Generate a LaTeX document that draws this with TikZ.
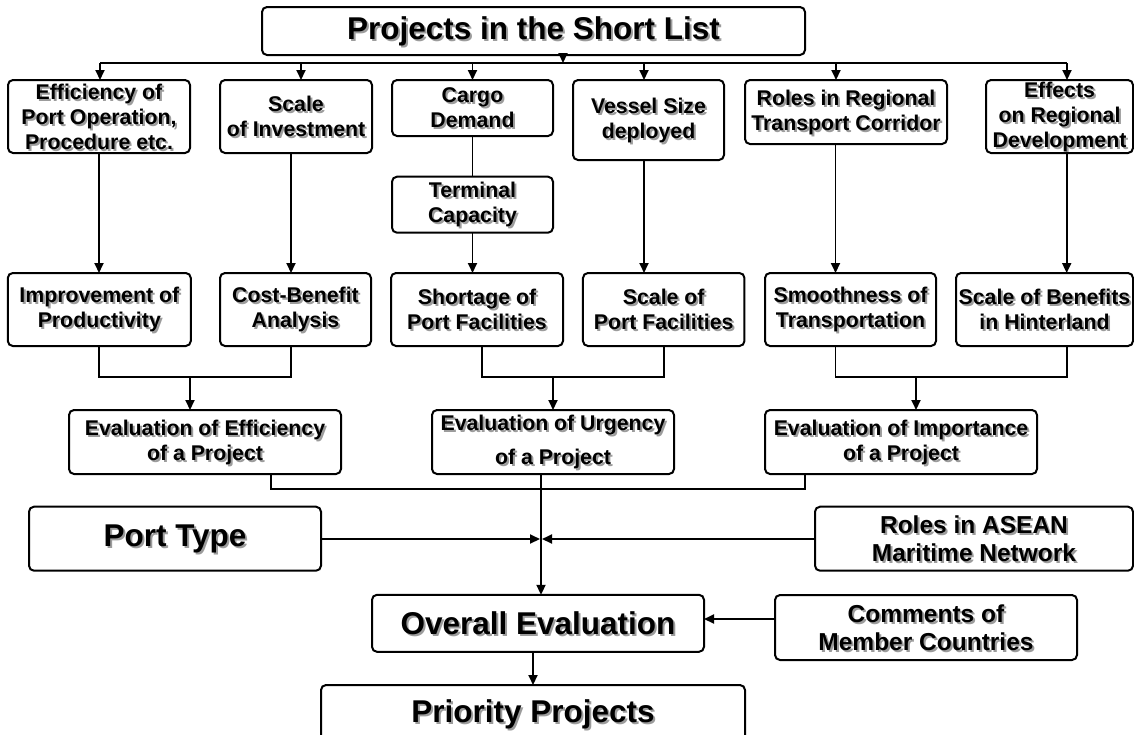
\documentclass[tikz,border=0pt]{standalone}
\usepackage{fontspec}
\setmainfont{Liberation Sans}
\usepackage{tikz}
\usetikzlibrary{arrows.meta}
\definecolor{shade}{HTML}{9C9C9C}
% box with a grey drop shadow under its text: name, style, centre, text
\newcommand{\bx}[4]{\node[#2,draw=none,text=shade] (#1s) at ([shift={(2,2)}]#3) {#4}; \node[#2] (#1) at (#3) {#4};}

\begin{document}
\begin{tikzpicture}[x=1pt,y=-1pt,
  box/.style={draw,line width=2pt,rounded corners=5pt,align=center,inner sep=1pt,outer sep=0pt},
  sm/.style={box,font=\fontsize{21.3}{25}\selectfont\bfseries},
  md/.style={box,font=\fontsize{24.5}{28}\selectfont\bfseries},
  lg/.style={box,font=\fontsize{31.5}{36}\selectfont\bfseries},
  sz/.style 2 args={minimum width=#1pt,minimum height=#2pt},
  arr/.style={line width=1.9pt,-{Triangle[length=10pt,width=9pt]}},
  ln/.style={line width=1.9pt},
  fine/.style={line width=1.2pt}]
\useasboundingbox (0,0) rectangle (1134,734);

% top and the criteria row
\bx{top}{lg,sz={543}{48}}{533.5,31}{Projects in the Short List}
\bx{eff}{sm,sz={182}{73}}{99,116.5}{Efficiency of\\Port Operation,\\Procedure etc.}
\bx{inv}{sm,sz={152}{73}}{296,116.5}{Scale\\of Investment}
\bx{cargo}{sm,sz={161}{56}}{472.5,108}{Cargo\\Demand}
\bx{vessel}{sm,sz={151}{80}}{648.5,120}{Vessel Size\\deployed}
\bx{corr}{sm,sz={202}{64}}{846,112}{Roles in Regional\\Transport Corridor}
\bx{regdev}{sm,sz={147}{73}}{1059.5,116.5}{Effects\\on Regional\\Development}
\bx{term}{sm,sz={161}{56}}{472.5,204.7}{Terminal\\Capacity}

% indicators
\bx{prod}{sm,sz={183}{73}}{99.3,309.5}{Improvement of\\Productivity}
\bx{cba}{sm,sz={151}{73}}{295.5,309.5}{Cost-Benefit\\Analysis}
\bx{short}{sm,sz={172}{73}}{477,309.5}{Shortage of\\Port Facilities}
\bx{facil}{sm,sz={161.5}{73}}{663.7,309.5}{Scale of\\Port Facilities}
\bx{smooth}{sm,sz={171}{73}}{850.5,309.5}{Smoothness of\\Transportation}
\bx{benef}{sm,sz={177}{73}}{1044.5,309.5}{Scale of Benefits\\in Hinterland}

% evaluations
\bx{effev}{sm,sz={272}{64}}{205,442}{Evaluation of Efficiency\\of a Project}
\bx{urgev}{sm,sz={242}{64}}{553,442}{Evaluation of Urgency\\[9pt]of a Project}
\bx{impev}{sm,sz={272}{64}}{901,442}{Evaluation of Importance\\of a Project}

% overall part
\bx{ptype}{lg,sz={292}{64}}{175,538.7}{Port Type}
\bx{asean}{md,sz={318}{64}}{974,538.7}{Roles in ASEAN\\Maritime Network}
\bx{overall}{lg,sz={332}{57}}{538,623.3}{Overall Evaluation}
\bx{comm}{md,sz={302}{65}}{926,627.5}{Comments of\\Member Countries}
\bx{prio}{lg,sz={424}{58}}{533,714}{Priority Projects}

% distribution line under the top box
\coordinate (bus) at (563,63);
\draw[arr] (top.south -| bus) -- (bus);
\draw[ln] (100,63) -- (1067,63);
\foreach \n/\xx in {eff/100,inv/301,cargo/472.5,vessel/644,corr/836,regdev/1067}{
  \coordinate (b\n) at (\xx,63);
  \draw[arr] (b\n) -- (b\n |- \n.north);
}

% criteria -> indicators
\coordinate (ci) at (291,0);
\coordinate (cv) at (644,0);
\coordinate (cr) at (835.5,0);
\coordinate (cd) at (1066.7,0);
\draw[arr] (eff.south) -- (eff.south |- prod.north);
\draw[arr] (inv.south -| ci) -- (cba.north -| ci);
\draw[fine] (cargo.south) -- (term.north);
\draw[arr] (term.south) -- (term.south |- short.north);
\draw[arr] (vessel.south -| cv) -- (facil.north -| cv);
\draw[arr] (corr.south -| cr) -- (smooth.north -| cr);
\draw[arr] (regdev.south -| cd) -- (benef.north -| cd);

% indicators -> evaluations
\coordinate (jn) at (0,377);
\coordinate (cs) at (482,0);
\coordinate (cf) at (664,0);
\coordinate (ja) at (190,377);
\coordinate (jb) at (916,377);
\draw[ln] (prod.south) |- (jn -| ci) -- (cba.south -| ci);
\draw[arr] (ja) -- (ja |- effev.north);
\draw[fine] (short.south -| cs) |- (jn -| cf) -- (facil.south -| cf);
\draw[arr] (jn -| urgev.north) -- (urgev.north);
\draw[ln] (smooth.south -| cr) |- (jn -| cd) -- (benef.south -| cd);
\draw[arr] (jb) -- (jb |- impev.north);

% evaluations -> overall evaluation
\coordinate (ev) at (0,489);
\coordinate (ce) at (271,0);
\coordinate (cm) at (805,0);
\coordinate (cx) at (541,539);
\draw[ln] (effev.south -| ce) |- (ev -| cm) -- (impev.south -| cm);
\draw[arr] (urgev.south -| cx) -- (overall.north -| cx);
\draw[arr,shorten >=1pt] (ptype.east |- cx) -- (cx);
\draw[arr,shorten >=1pt] (asean.west |- cx) -- (cx);
\coordinate (cc) at (0,619);
\draw[arr] (comm.west |- cc) -- (overall.east |- cc);
\draw[arr] (overall.south -| prio.north) -- (prio.north);
\end{tikzpicture}
\end{document}
